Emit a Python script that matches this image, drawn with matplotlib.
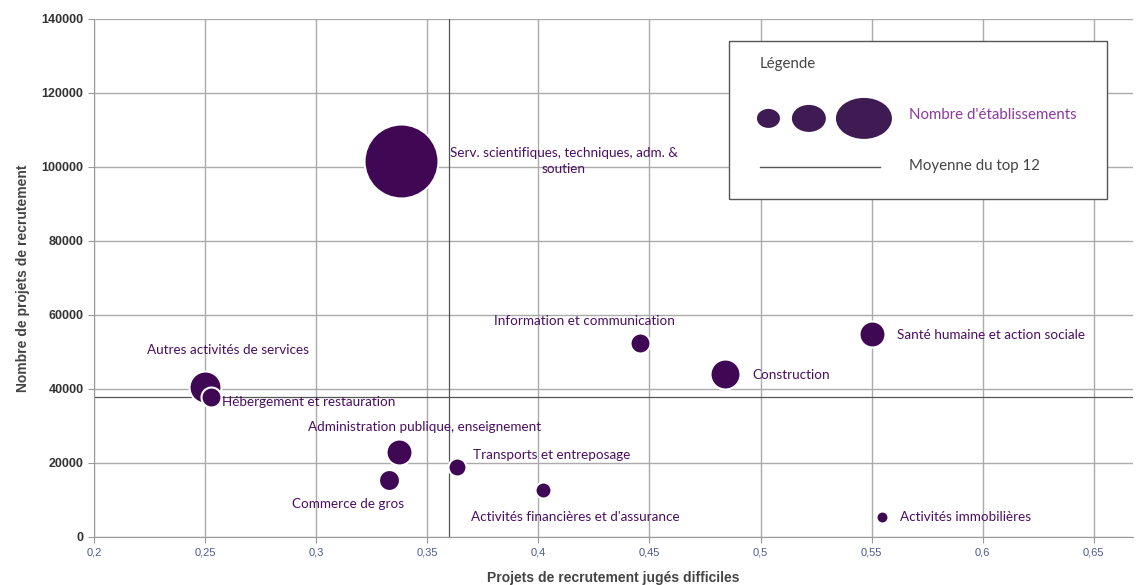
import matplotlib.pyplot as plt
from matplotlib.patches import Rectangle, Ellipse
from matplotlib.lines import Line2D
from matplotlib.ticker import FuncFormatter

secteurs = [
    "Serv. scientifiques, techniques, adm. &\nsoutien",
    "Autres activités de services",
    "Hébergement et restauration",
    "Administration publique, enseignement",
    "Commerce de gros",
    "Transports et entreposage",
    "Activités financières et d'assurance",
    "Information et communication",
    "Construction",
    "Santé humaine et action sociale",
    "Activités immobilières",
]
part_difficiles = [0.338, 0.250, 0.2525, 0.3373, 0.3328, 0.3634, 0.402, 0.4457, 0.484, 0.550, 0.5546]
nb_projets = [101500, 40500, 37700, 23000, 15400, 18900, 12700, 52400, 44000, 54900, 5400]
nb_etab = [13700, 2560, 1000, 1690, 1100, 810, 640, 1000, 2250, 1690, 360]

moy_x = 0.36
moy_y = 37800

# label placement: offset in pixels from the bubble centre, alignment
label_pos = [
    (163, 0, "center"),
    (23, 37, "center"),
    (11, -5, "left"),
    (26, 25, "center"),
    (-41, -24, "center"),
    (16, 12, "left"),
    (33, -27, "center"),
    (-55, 22, "center"),
    (27, -1, "left"),
    (25, -1, "left"),
    (18, 0, "left"),
]

violet = "#3f0754"
txt_violet = "#4a0e62"
lbl_font = ["Lato", "DejaVu Sans"]

fig = plt.figure(figsize=(11.36, 5.85), dpi=100)
ax = fig.add_axes([0.0827, 0.0821, 0.9146, 0.8855])

ax.set_xlim(0.2, 0.6676)
ax.set_ylim(0, 140000)
ax.set_xticks([0.2, 0.25, 0.3, 0.35, 0.4, 0.45, 0.5, 0.55, 0.6, 0.65])
ax.set_yticks(range(0, 140001, 20000))
ax.xaxis.set_major_formatter(FuncFormatter(lambda v, p: f"{v:g}".replace(".", ",")))
ax.grid(True, color="#ababab", lw=1, zorder=0)
ax.set_axisbelow(True)
for s in ["top", "right"]:
    ax.spines[s].set_visible(False)
for s in ["left", "bottom"]:
    ax.spines[s].set_color("#9a9a9a")
ax.tick_params(axis="both", length=4, color="#9a9a9a")
ax.tick_params(axis="x", labelsize=8, labelcolor="#4d5a94")
for t in ax.get_yticklabels():
    t.set_fontweight("bold")
    t.set_fontsize(9)
    t.set_color("#333333")
    t.set_family("Liberation Sans")
for t in ax.get_xticklabels():
    t.set_family("Liberation Sans")

ax.set_xlabel("Projets de recrutement jugés difficiles", fontsize=10, fontweight="bold",
              color="#444444", family="Liberation Sans", labelpad=10)
ax.set_ylabel("Nombre de projets de recrutement", fontsize=10, fontweight="bold",
              color="#444444", family="Liberation Sans", labelpad=8)

ax.axvline(moy_x, color="#555555", lw=0.9, zorder=1)
ax.axhline(moy_y, color="#555555", lw=0.9, zorder=1)

sizes = [n * 0.207 for n in nb_etab]
for i in range(len(secteurs)):
    ax.scatter(part_difficiles[i], nb_projets[i], s=sizes[i], color=violet,
               edgecolors="white", linewidths=1.5, zorder=3)
    dx, dy, ha = label_pos[i]
    ax.annotate(secteurs[i], (part_difficiles[i], nb_projets[i]), xytext=(dx, dy),
                textcoords="offset pixels", ha=ha, va="center", fontsize=9.7,
                color=txt_violet, family=lbl_font, zorder=4, linespacing=1.4)

# legend box
ax.add_patch(Rectangle((0.611, 0.6525), 0.364, 0.305, transform=ax.transAxes,
                       facecolor="white", edgecolor="#555555", lw=1, zorder=5))
ax.text(0.641, 0.913, "Légende", transform=ax.transAxes, fontsize=10.8, color="#444444",
        family=lbl_font, va="center", ha="left", zorder=6)
for cx, w, h in [(0.6492, 23, 19), (0.6881, 34, 27), (0.7411, 56, 41)]:
    ax.add_patch(Ellipse((cx, 0.808), w / 1039, h / 518, transform=ax.transAxes,
                         facecolor="#3e1c53", edgecolor="none", zorder=6))
ax.text(0.784, 0.815, "Nombre d'établissements", transform=ax.transAxes, fontsize=10.8,
        color="#8b3a9e", family=lbl_font, va="center", ha="left", zorder=6)
ax.add_line(Line2D([0.641, 0.757], [0.715, 0.715], transform=ax.transAxes,
                   color="#555555", lw=1, zorder=6))
ax.text(0.784, 0.717, "Moyenne du top 12", transform=ax.transAxes, fontsize=10.8,
        color="#444444", family=lbl_font, va="center", ha="left", zorder=6)

fig.savefig("out.png", dpi=100)
